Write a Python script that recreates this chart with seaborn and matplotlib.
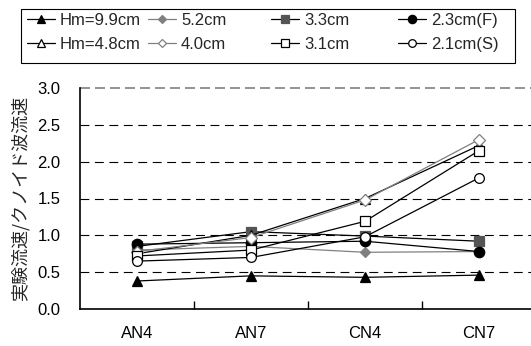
import matplotlib
matplotlib.use("Agg")
import matplotlib.pyplot as plt
from matplotlib.lines import Line2D
from matplotlib.patches import Rectangle
import seaborn as sns
import pandas as pd

sns.set_theme(style="white")
plt.rcParams["font.family"] = ["Liberation Sans", "Noto Sans CJK JP", "DejaVu Sans"]

cases = ["AN4", "AN7", "CN4", "CN7"]
hm_99 = [0.38, 0.45, 0.43, 0.46]
hm_52 = [0.80, 0.85, 0.77, 0.78]
hm_33 = [0.85, 1.05, 0.99, 0.92]
hm_23f = [0.88, 0.90, 0.92, 0.78]
hm_48 = [0.75, 1.00, 1.50, 2.22]
hm_40 = [0.78, 0.97, 1.48, 2.30]
hm_31 = [0.72, 0.80, 1.19, 2.15]
hm_21s = [0.65, 0.70, 0.98, 1.78]
labels = ["Hm=9.9cm", "5.2cm", "3.3cm", "2.3cm(F)",
          "Hm=4.8cm", "4.0cm", "3.1cm", "2.1cm(S)"]
ylabel = "実験流速/クノイド波流速"

series = [hm_99, hm_52, hm_33, hm_23f, hm_48, hm_40, hm_31, hm_21s]
# (line colour, marker, face colour, edge colour, marker size)
styles = [
    ("black", "^", "black", "black", 7.5),
    ("#808080", "D", "#808080", "#808080", 5.5),
    ("black", "s", "#555555", "#555555", 7),
    ("black", "o", "black", "black", 7.5),
    ("black", "^", "white", "black", 7.5),
    ("#808080", "D", "white", "#808080", 6),
    ("black", "s", "white", "black", 7),
    ("black", "o", "white", "black", 7),
]

fig = plt.figure(figsize=(5.31, 3.46), dpi=100)
ax = fig.add_axes([80 / 531, 37 / 346, 456 / 531, 221 / 346])

for vals, lab, (lc, mk, fc, ec, ms) in zip(series, labels, styles):
    df = pd.DataFrame({"case": cases, "ratio": vals})
    sns.lineplot(data=df, x="case", y="ratio", ax=ax, color=lc, lw=0.9,
                 marker=mk, markerfacecolor=fc, markeredgecolor=ec,
                 markeredgewidth=0.9, markersize=ms, sort=False, legend=False)

ax.set_xlim(-0.5, 3.5)
ax.set_ylim(0, 3.0)
ax.set_yticks([0, 0.5, 1.0, 1.5, 2.0, 2.5, 3.0])
ax.set_yticklabels(["0.0", "0.5", "1.0", "1.5", "2.0", "2.5", "3.0"])
ax.tick_params(axis="y", length=0, pad=14, labelsize=12, colors="black")

# category labels centred, boundary ticks pointing inward
ax.set_xticks([0, 1, 2, 3])
ax.set_xticklabels(cases)
ax.tick_params(axis="x", which="major", length=0, pad=12, labelsize=12,
               colors="black")
ax.set_xticks([0.5, 1.5, 2.5], minor=True)
ax.tick_params(axis="x", which="minor", direction="in", length=6,
               width=1, color="black", bottom=True)
ax.set_xlabel("")
ax.set_ylabel(ylabel, fontsize=13, labelpad=6,
              family=["Noto Sans CJK JP", "DejaVu Sans"])

for y in [0.5, 1.0, 1.5, 2.0, 2.5]:
    ax.axhline(y, color="black", lw=0.8, ls=(0, (8, 5)), zorder=0.5)
ax.axhline(3.0, color="#808080", lw=1.2, ls=(0, (6, 3)), zorder=0.5, clip_on=False)

for s in ["top", "right"]:
    ax.spines[s].set_visible(False)
for s in ["left", "bottom"]:
    ax.spines[s].set_color("black")
    ax.spines[s].set_linewidth(1.2)

# legend: four columns with even spacing inside a single frame
col_x = [27, 148, 271, 398]
for c in range(4):
    hs = []
    ls = []
    for r in range(2):
        i = r * 4 + c
        lc, mk, fc, ec, ms = styles[i]
        hs.append(Line2D([], [], color=lc, lw=0.9,
                         marker=mk, markerfacecolor=fc, markeredgecolor=ec,
                         markeredgewidth=0.9, markersize=ms - 1.5))
        ls.append(labels[i])
    fig.legend(hs, ls, loc="upper left",
               bbox_to_anchor=(col_x[c] / 531, 1 - 13 / 346),
               frameon=False, fontsize=12, borderpad=0, borderaxespad=0,
               handlelength=1.68, handletextpad=0.3, labelspacing=0.55)

fig.patches.append(Rectangle((21 / 531, 1 - 63 / 346), 494 / 531, 54 / 346,
                             transform=fig.transFigure, fill=False,
                             edgecolor="black", lw=0.8))

fig.savefig("out.png", dpi=100)
